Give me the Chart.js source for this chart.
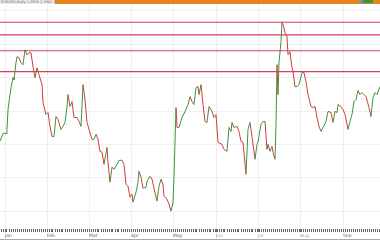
<!DOCTYPE html>
<html><head><meta charset="utf-8">
<script src="https://cdn.jsdelivr.net/npm/chart.js@4"></script>
<style>html,body{margin:0;padding:0;background:#fff;overflow:hidden}canvas{display:block}</style>
</head><body><canvas id="c" width="380" height="240"></canvas>
<script>
// bar index (x) and close price (y)
const bars = [0,3,6,7,8,11,13,14,16,17,19,21,23,25,27,29,31,33,35,37,39,42,43,46,48,50,52,54,56,58,61,63,65,67,68,70,72,74,77,79,81,83,85,87,89,92,94,96,98,100,102,104,107,108,110,112,114,117,119,122,124,126,128,130,132,133,136,138,139,141,143,146,147,150,152,154,157,159,161,163,164,167,169,171,173,174,176,177,179,182,185,188,190,192,194,196,198,199,201,203,205,207,209,212,214,216,218,222,224,227,229,231,232,234,237,239,241,243,246,248,250,252,255,257,258,261,263,265,267,268,270,272,273,275,276,277,278,279,281,282,284,285,287,288,290,292,293,295,297,299,302,304,306,308,311,313,315,317,319,321,323,326,328,331,333,335,337,338,341,343,345,348,350,352,354,356,358,360,362,364,366,369,371,373,375,377,380];
const closes = [1.2049,1.2164,1.2164,1.2224,1.2522,1.2851,1.3000,1.2970,1.3224,1.3313,1.3298,1.3224,1.3194,1.3418,1.3343,1.3373,1.3373,1.3164,1.3000,1.3149,1.3045,1.2895,1.2627,1.2448,1.2478,1.2269,1.2119,1.2119,1.2418,1.2373,1.2224,1.2269,1.2328,1.2567,1.2746,1.2567,1.2642,1.2403,1.2403,1.2343,1.2269,1.2895,1.2672,1.2328,1.2224,1.2075,1.2075,1.2149,1.2075,1.1896,1.1881,1.1701,1.1955,1.1731,1.1433,1.1657,1.1627,1.1701,1.1761,1.1761,1.1701,1.1403,1.1373,1.1209,1.1254,1.1134,1.1284,1.1433,1.1597,1.1507,1.1343,1.1358,1.1448,1.1522,1.1478,1.1343,1.1149,1.1373,1.1478,1.1403,1.1224,1.1179,1.1104,1.1000,1.1134,1.1522,1.2552,1.2254,1.2254,1.2403,1.2493,1.2597,1.2716,1.2642,1.2597,1.2851,1.2866,1.2746,1.2895,1.2597,1.2343,1.2328,1.2567,1.2493,1.2403,1.2448,1.2030,1.2000,1.1925,1.1896,1.2254,1.2194,1.2328,1.2254,1.2269,1.2194,1.2045,1.2030,1.1552,1.2224,1.2328,1.2119,1.1776,1.2000,1.2045,1.2298,1.2343,1.2343,1.1925,1.2000,1.1896,1.1970,1.1881,1.1776,1.2298,1.3194,1.2746,1.3224,1.3537,1.3836,1.3746,1.3672,1.3612,1.3343,1.3388,1.3149,1.3090,1.2866,1.2866,1.2895,1.3075,1.3075,1.2940,1.2746,1.2567,1.2552,1.2567,1.2403,1.2269,1.2194,1.2254,1.2343,1.2493,1.2478,1.2328,1.2493,1.2478,1.2597,1.2567,1.2522,1.2448,1.2224,1.2343,1.2448,1.2642,1.2672,1.2806,1.2746,1.2776,1.2746,1.2716,1.2552,1.2418,1.2701,1.2776,1.2746,1.2866];
const levels = [1.3830, 1.3642, 1.3403, 1.3090];
const priceGrid = [1.10, 1.15, 1.20, 1.25, 1.30, 1.35, 1.40];
const monthBars = [5, 47, 89, 131, 173, 216, 258, 300, 343];
const monthLabels = ['Jan', 'Feb', 'Mar', 'Apr', 'May', 'Jun', 'Jul', 'Aug', 'Sep'];
const headerText = 'EURUSD,Daily 1.2866 1.2901 1.2840 1.2870';

const UP = '#3a953a', DOWN = '#d23a3a';
const tickBars = [];
for (let b = 1; b < 380; b += 2) tickBars.push(b);

const chrome = {
  id: 'chrome',
  afterDraw(chart) {
    const ctx = chart.ctx;
    ctx.save();
    ctx.fillStyle = '#e2861c';
    ctx.fillRect(0, 0, 380, 4);
    ctx.fillStyle = '#ececec';
    ctx.fillRect(0, 0, 55, 4);
    ctx.beginPath(); ctx.rect(0, 0, 55, 4); ctx.clip();
    ctx.fillStyle = '#70707e';
    ctx.font = '3.5px "DejaVu Sans"';
    ctx.textBaseline = 'top';
    ctx.fillText(headerText, 1, 0);
    ctx.restore();
    ctx.save();
    ctx.fillStyle = '#2f9a3f';
    ctx.fillRect(363, 0, 10, 3);
    ctx.fillStyle = '#6a8fd0';
    ctx.fillRect(360, 0, 3, 3);
    ctx.fillStyle = '#aaa';
    ctx.fillRect(0, 239, 380, 1);
    ctx.restore();
  }
};

new Chart(document.getElementById('c'), {
  type: 'line',
  data: {
    datasets: [
      ...levels.map(v => ({
        data: [{x: 0, y: v}, {x: 380, y: v}],
        borderColor: '#d8405a', borderWidth: 1.1, pointRadius: 0
      })),
      {
        data: bars.map((b, i) => ({x: b, y: closes[i]})),
        borderWidth: 1, pointRadius: 0, tension: 0,
        segment: { borderColor: c => c.p1.parsed.y >= c.p0.parsed.y ? UP : DOWN }
      }
    ]
  },
  options: {
    responsive: false, animation: false, devicePixelRatio: 1,
    layout: { padding: { top: 4, bottom: 1, left: 0, right: 0 } },
    plugins: { legend: { display: false }, tooltip: { enabled: false } },
    scales: {
      x: {
        type: 'linear', min: 0, max: 380,
        afterBuildTicks: s => { s.ticks = [...monthBars, ...tickBars].sort((a, b) => a - b).map(v => ({value: v})); },
        grid: {
          color: c => monthBars.includes(c.tick && c.tick.value) ? '#efefef' : 'rgba(0,0,0,0)',
          tickColor: '#666', tickLength: 3, drawTicks: true
        },
        border: { display: false },
        ticks: {
          autoSkip: false, maxRotation: 0, align: 'start', padding: 1,
          color: '#a0a0a0', font: { size: 4.5, family: 'DejaVu Sans', lineHeight: 1.1 },
          callback: v => { const i = monthBars.indexOf(v); return i >= 0 ? monthLabels[i] : ''; }
        }
      },
      y: {
        min: 1.0731, max: 1.4104,
        afterBuildTicks: s => { s.ticks = priceGrid.map(v => ({value: v})); },
        grid: { color: '#f0f0f0', drawTicks: false },
        border: { display: false },
        ticks: { display: false }
      }
    }
  },
  plugins: [chrome]
});
</script></body></html>
